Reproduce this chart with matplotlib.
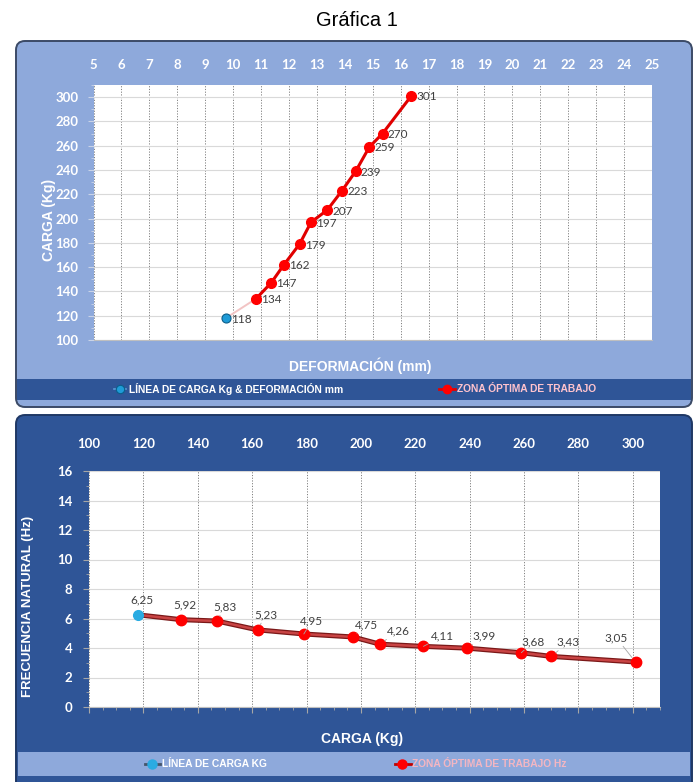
import matplotlib
matplotlib.use('Agg')
import matplotlib.pyplot as plt
from matplotlib.patches import FancyBboxPatch, Rectangle
from matplotlib.ticker import MultipleLocator

# ---------------- data ----------------
deformacion = [9.74, 10.82, 11.36, 11.82, 12.38, 12.79, 13.37, 13.90, 14.39, 14.88, 15.35, 16.38]
carga = [118, 134, 147, 162, 179, 197, 207, 223, 239, 259, 270, 301]
frecuencia = [6.25, 5.92, 5.83, 5.23, 4.95, 4.75, 4.26, 4.11, 3.99, 3.68, 3.43, 3.05]

top_xticks = list(range(5, 26))
top_yticks = list(range(100, 301, 20))
bot_xticks = list(range(100, 301, 20))
bot_yticks = list(range(0, 17, 2))

title = "Gráfica 1"
top_xlabel = "DEFORMACIÓN (mm)"
top_ylabel = "CARGA (Kg)"
bot_xlabel = "CARGA (Kg)"
bot_ylabel = "FRECUENCIA NATURAL (Hz)"
top_leg1 = "LÍNEA DE CARGA Kg & DEFORMACIÓN mm"
top_leg2 = "ZONA ÓPTIMA DE TRABAJO"
bot_leg1 = "LÍNEA DE CARGA KG"
bot_leg2 = "ZONA ÓPTIMA DE TRABAJO Hz"

# offsets (pixels) of the frequency labels relative to their points
freq_lbl_dx = [4, 3, 8, 8, 8, 14, 18, 19, 17, 12, 17, -19]
freq_lbl_dy = [15, 15, 14, 15, 13, 12, 13, 10, 12, 11, 14, 24]

# ---------------- styles ----------------
W, H = 698, 782
LIGHT = '#8EA9DB'
DARK = '#2F5597'
PINK = '#FFC3CD'
ARIAL = ['Liberation Sans', 'DejaVu Sans']
CAL = ['Lato', 'DejaVu Sans']

fig = plt.figure(figsize=(W / 100, H / 100), dpi=100)
fig.patch.set_facecolor('white')

bg = fig.add_axes([0, 0, 1, 1])
bg.set_xlim(0, W)
bg.set_ylim(H, 0)
bg.axis('off')

# panels
bg.add_patch(FancyBboxPatch((16, 41), 676, 366, boxstyle='round,pad=0,rounding_size=9',
                            fc=LIGHT, ec='#3B4A66', lw=1.4))
bg.add_patch(Rectangle((17, 379), 674, 21, fc=DARK, ec='none'))
bg.add_patch(FancyBboxPatch((16, 415), 676, 390, boxstyle='round,pad=0,rounding_size=9',
                            fc=DARK, ec='#1F3864', lw=1.4))
bg.add_patch(Rectangle((18, 752), 672, 24, fc=LIGHT, ec='none'))

bg.text(357, 20, title, ha='center', va='center', fontsize=14.5, family=ARIAL, color='black')

# axis titles
bg.text(360, 366, top_xlabel, ha='center', va='center', fontsize=10, fontweight='bold',
        family=ARIAL, color='white')
bg.text(49, 220, top_ylabel, ha='center', va='center', rotation=90, fontsize=10,
        fontweight='bold', family=ARIAL, color='white')
bg.text(362, 739, bot_xlabel, ha='center', va='center', fontsize=10, fontweight='bold',
        family=ARIAL, color='white')
bg.text(28, 606, bot_ylabel, ha='center', va='center', rotation=90, fontsize=9.5,
        fontweight='bold', family=ARIAL, color='white')

# legends (top)
bg.plot([114, 126], [389, 389], color='#5B9BD5', lw=1.2)
bg.plot([120], [389], 'o', ms=6, mfc='#1E9BD7', mec='#0B5E8A', mew=0.8)
bg.text(129, 389, top_leg1, ha='left', va='center', fontsize=7.4, fontweight='bold',
        family=ARIAL, color='white')
bg.plot([439, 455], [389, 389], color='#E60000', lw=2)
bg.plot([447], [389], 'o', ms=6, color='#FF0000')
bg.text(457, 389, top_leg2, ha='left', va='center', fontsize=7.4, fontweight='bold',
        family=ARIAL, color=PINK)

# legends (bottom)
bg.plot([145, 160], [764, 764], color='#44546A', lw=2)
bg.plot([152], [764], 'o', ms=6.5, color='#29ABE2')
bg.text(162, 764, bot_leg1, ha='left', va='center', fontsize=7.4, fontweight='bold',
        family=ARIAL, color='white')
bg.plot([395, 411], [764, 764], color='#C00000', lw=2)
bg.plot([402], [764], 'o', ms=6.5, color='#FF0000')
bg.text(412, 764, bot_leg2, ha='left', va='center', fontsize=7.4, fontweight='bold',
        family=ARIAL, color='#F4B6C2')


def px_axes(x0, y0, x1, y1):
    return fig.add_axes([x0 / W, 1 - y1 / H, (x1 - x0) / W, (y1 - y0) / H])


# ---------------- top chart ----------------
ax1 = px_axes(93.5, 85, 652, 340)
ax1.set_facecolor('white')
ax1.set_xlim(5, 25)
ax1.set_ylim(100, 310)
ax1.set_xticks(top_xticks)
ax1.set_yticks(top_yticks)
ax1.yaxis.set_minor_locator(MultipleLocator(10))
ax1.xaxis.tick_top()
ax1.tick_params(axis='x', which='both', length=0, pad=10, labelsize=9.5, labelcolor='white')
ax1.tick_params(axis='y', which='major', length=4, color='#C9D3E8', pad=7, labelsize=9.5,
                labelcolor='white')
ax1.tick_params(axis='y', which='minor', length=2, color='#C9D3E8')
for lab in ax1.get_xticklabels() + ax1.get_yticklabels():
    lab.set_fontweight('bold')
    lab.set_family(CAL)
ax1.grid(axis='x', color='#808080', lw=0.7, linestyle=(0, (1.2, 1.6)))
ax1.grid(axis='y', color='#D9D9D9', lw=0.8)
ax1.set_axisbelow(True)
for s in ax1.spines.values():
    s.set_visible(False)
ax1.spines['bottom'].set_visible(True)
ax1.spines['bottom'].set_color('#BFBFBF')

ax1.plot(deformacion[:2], carga[:2], color='#F2C4C4', lw=1.4, zorder=2)
ax1.plot(deformacion[1:], carga[1:], color='#E00000', lw=2.2, zorder=3)
ax1.plot(deformacion[1:], carga[1:], 'o', ms=7, color='#FF0000', zorder=4)
ax1.plot(deformacion[:1], carga[:1], 'o', ms=6.5, mfc='#1E9BD7', mec='#0B5E8A', mew=0.8, zorder=4)
for x, y in zip(deformacion, carga):
    ax1.annotate(str(y), (x, y), xytext=(5, -1), textcoords='offset pixels',
                 ha='left', va='center', fontsize=8.5, color='#404040', family=CAL)

# ---------------- bottom chart ----------------
ax2 = px_axes(89, 471, 660, 707)
ax2.set_facecolor('white')
ax2.set_xlim(100, 310)
ax2.set_ylim(0, 16)
ax2.set_xticks(bot_xticks)
ax2.set_yticks(bot_yticks)
ax2.xaxis.set_minor_locator(MultipleLocator(5))
ax2.yaxis.set_minor_locator(MultipleLocator(1))
ax2.tick_params(axis='x', which='both', bottom=True, top=False, labelbottom=False,
                labeltop=True, pad=11, labelsize=9.5, labelcolor='white', color='#A6A6A6')
ax2.tick_params(axis='x', which='major', length=4)
ax2.tick_params(axis='x', which='minor', length=2.5)
ax2.tick_params(axis='y', which='major', length=4, color='#A6A6A6', pad=8, labelsize=9.5,
                labelcolor='white')
ax2.tick_params(axis='y', which='minor', length=2, color='#A6A6A6')
for lab in ax2.get_xticklabels() + ax2.get_yticklabels():
    lab.set_fontweight('bold')
    lab.set_family(CAL)
ax2.grid(axis='x', color='#808080', lw=0.7, linestyle=(0, (1.2, 1.6)))
ax2.grid(axis='y', color='#D9D9D9', lw=0.8)
ax2.set_axisbelow(True)
for s in ax2.spines.values():
    s.set_visible(False)
ax2.spines['bottom'].set_visible(True)
ax2.spines['bottom'].set_color('#BFBFBF')

ax2.plot(carga, frecuencia, color='#7B1818', lw=3.6, zorder=2, solid_capstyle='round')
ax2.plot(carga, frecuencia, color='#C84444', lw=1.8, zorder=3)
ax2.plot(carga[1:], frecuencia[1:], 'o', ms=7.5, color='#FF0000', zorder=4)
ax2.plot(carga[:1], frecuencia[:1], 'o', ms=7, color='#29ABE2', zorder=4)
for i, (x, y) in enumerate(zip(carga, frecuencia)):
    lbl = f"{y:.2f}".replace('.', ',')
    arrow = None
    if i >= 2:
        arrow = dict(arrowstyle='-', color='#A6A6A6', lw=0.6, shrinkA=0, shrinkB=4)
    ax2.annotate(lbl, (x, y), xytext=(freq_lbl_dx[i], freq_lbl_dy[i]),
                 textcoords='offset pixels', ha='center', va='center', fontsize=8.5,
                 color='#404040', family=CAL, arrowprops=arrow, zorder=5)

fig.savefig('out.png', dpi=100)
